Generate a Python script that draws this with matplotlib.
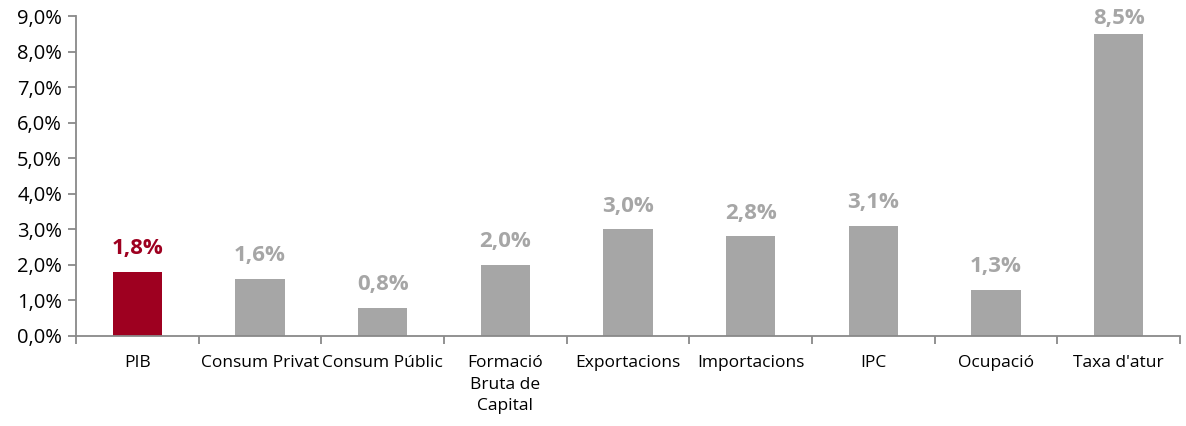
import matplotlib.pyplot as plt
import numpy as np
from matplotlib.ticker import FuncFormatter, FixedLocator

plt.rcParams['font.family'] = ['Open Sans', 'DejaVu Sans']

categories = ['PIB', 'Consum Privat', 'Consum Públic', 'Formació\nBruta de\nCapital',
              'Exportacions', 'Importacions', 'IPC', 'Ocupació', "Taxa d'atur"]
values = [1.8, 1.6, 0.8, 2.0, 3.0, 2.8, 3.1, 1.3, 8.5]

RED = '#9E0020'
GREY = '#A6A6A6'
AXIS = '#898989'

fig = plt.figure(figsize=(11.86, 4.26), dpi=100)
ax = fig.add_axes([76 / 1186, 90 / 426, (1180 - 76) / 1186, (336 - 16) / 426])

x = np.arange(len(categories))
colors = [RED] + [GREY] * (len(categories) - 1)
ax.bar(x, values, width=0.4, color=colors, zorder=2)

ymax = 9
for xi, v, c in zip(x, values, colors):
    # keep label inside the figure for the tallest bar
    ty = min(v + 0.36, ymax - 0.36)
    ax.text(xi, ty, f'{v:.1f}%'.replace('.', ','), ha='center', va='bottom',
            fontsize=16, fontweight='bold', color=c)

ax.set_xlim(-0.5, len(categories) - 0.5)
ax.set_ylim(0, ymax)
ax.set_yticks(np.arange(0, 9.01, 1))
ax.yaxis.set_major_formatter(FuncFormatter(lambda v, p: f'{v:.1f}%'.replace('.', ',')))

ax.set_xticks(x)
ax.set_xticklabels(categories)
ax.xaxis.set_minor_locator(FixedLocator(np.arange(-0.5, len(categories), 1)))
ax.tick_params(axis='x', which='major', length=0, pad=14, labelsize=12.5, colors='black')
ax.tick_params(axis='x', which='minor', length=6, width=1.3, color=AXIS)
ax.tick_params(axis='y', length=6, width=1.3, color=AXIS, labelsize=14.5, pad=4)
for lbl in ax.get_xticklabels():
    lbl.set_verticalalignment('top')
    lbl.set_linespacing(1.45)

for side in ['top', 'right']:
    ax.spines[side].set_visible(False)
for side in ['left', 'bottom']:
    ax.spines[side].set_color(AXIS)
    ax.spines[side].set_linewidth(1.3)

fig.savefig('out.png', dpi=100)
